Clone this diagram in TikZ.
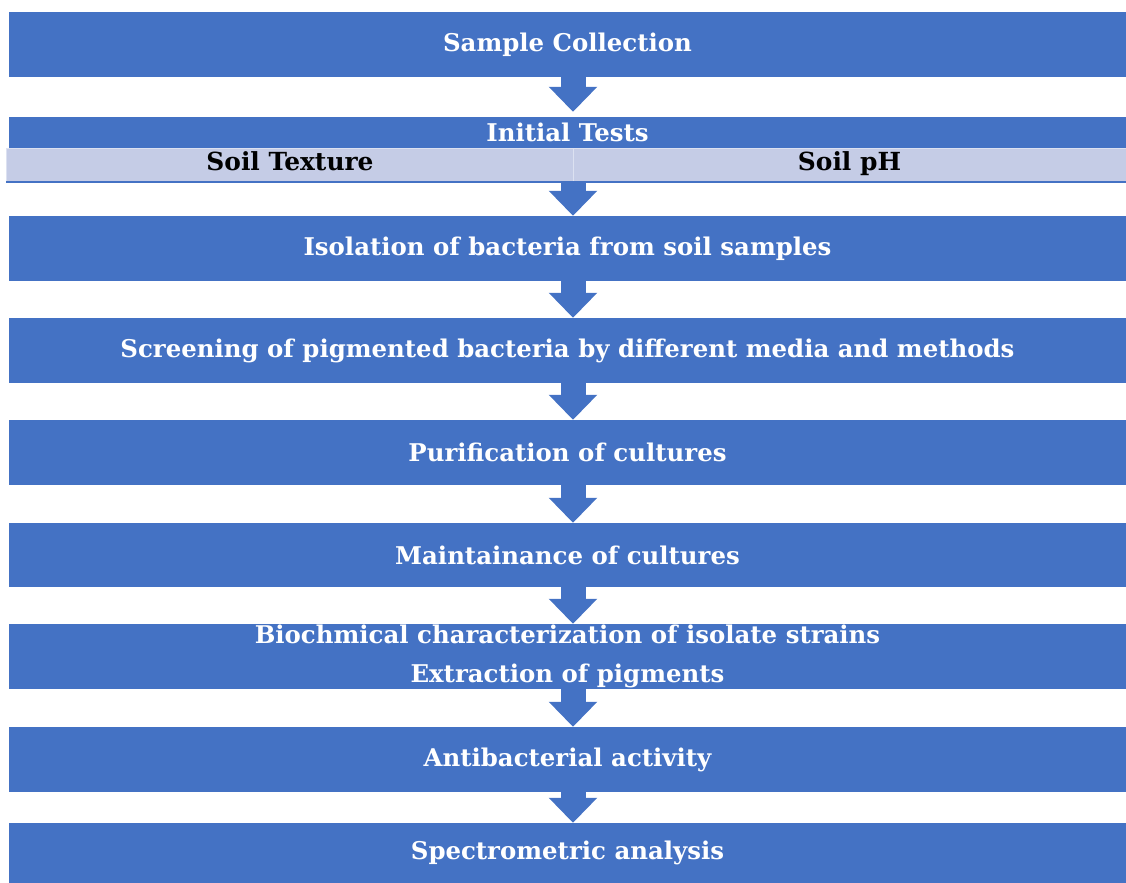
\documentclass[tikz,border=0pt]{standalone}
\usepackage{fontspec}
\setmainfont{DejaVu Serif}
\usetikzlibrary{arrows.meta,calc}
\definecolor{boxblue}{HTML}{4472C4}
\definecolor{bandblue}{HTML}{C5CCE6}
\definecolor{bandline}{HTML}{DCE1F1}
\begin{document}
\begin{tikzpicture}[x=1bp,y=-1bp,
  box/.style={rectangle, fill=boxblue, inner sep=0pt, minimum width=1117bp, text=white,
    font=\fontsize{24.5}{39}\selectfont\bfseries, align=center},
  band/.style={rectangle, fill=bandblue, draw=bandline, line width=1bp, inner sep=0pt,
    minimum height=33bp, text height=17bp, text depth=5bp, text=black,
    font=\fontsize{25}{26}\selectfont\bfseries},
  flow/.style={draw=boxblue, line width=25bp, -{Triangle[width=47bp,length=25bp]}, shorten >=0pt}]
\useasboundingbox (0,0) rectangle (1126,883);
\node[box, minimum height=65bp] (n1) at (567.5,44.5) {Sample Collection};
\node[box, minimum height=31bp] (n2) at (567.5,132.5) {Initial Tests};
\node[band, minimum width=566bp] (b1) at (290,164.5) {Soil Texture};
\node[band, minimum width=553bp] (b2) at (849.5,164.5) {Soil pH};
\draw[boxblue, line width=2bp] (b1.south west) -- (b2.south east);
\node[box, minimum height=65bp] (n3) at (567.5,248.5) {Isolation of bacteria from soil samples};
\node[box, minimum height=65bp] (n4) at (567.5,350.5) {Screening of pigmented bacteria by different media and methods};
\node[box, minimum height=65bp] (n5) at (567.5,452.5) {Purification of cultures};
\node[box, minimum height=64bp] (n6) at (567.5,555) {Maintainance of cultures};
\node[box, minimum height=65bp] (n7) at (567.5,656.5) {Biochmical characterization of isolate strains\\Extraction of pigments};
\node[box, minimum height=65bp] (n8) at (567.5,759.5) {Antibacterial activity};
\node[box, minimum height=60bp] (n9) at (567.5,853) {Spectrometric analysis};
\coordinate (ax) at (573,0);
\draw[flow] (n1.south -| ax) -- ($(n2.north -| ax)+(0,-5)$);
\draw[flow] ($(b1.south -| ax)+(0,1)$) -- (n3.north -| ax);
\draw[flow] (n3.south -| ax) -- (n4.north -| ax);
\draw[flow] (n4.south -| ax) -- (n5.north -| ax);
\draw[flow] (n5.south -| ax) -- (n6.north -| ax);
\draw[flow] (n6.south -| ax) -- (n7.north -| ax);
\draw[flow] (n7.south -| ax) -- (n8.north -| ax);
\draw[flow] (n8.south -| ax) -- (n9.north -| ax);
\end{tikzpicture}
\end{document}
